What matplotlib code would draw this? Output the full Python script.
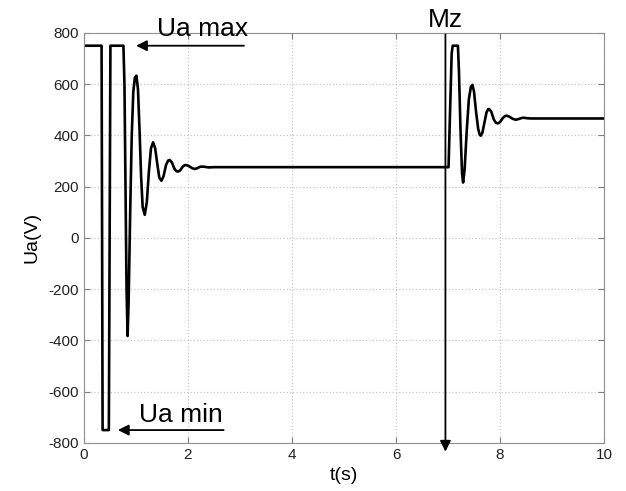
import numpy as np
import matplotlib.pyplot as plt

plt.rcParams['font.family'] = ['Liberation Sans', 'DejaVu Sans']
plt.rcParams['axes.unicode_minus'] = False

# start-up transient (time in s, voltage in V)
t_start = [0.00, 0.34, 0.36, 0.48, 0.51, 0.76, 0.78, 0.80, 0.82, 0.84,
           0.86, 0.89, 0.92, 0.95, 0.98, 1.01, 1.04, 1.07, 1.10, 1.13,
           1.17, 1.21, 1.25, 1.29, 1.33, 1.37, 1.41, 1.45, 1.49, 1.53,
           1.58, 1.62, 1.65, 1.69, 1.74, 1.78, 1.81, 1.85, 1.90, 1.94,
           1.97, 2.02, 2.08, 2.13, 2.18, 2.24, 2.30, 2.40, 2.50]
ua_start = [750, 750, -750, -750, 750, 750, 600, 200, -200, -383,
            -250, 100, 400, 570, 625, 633, 580, 420, 240, 120,
            90, 140, 260, 350, 373, 350, 290, 235, 223, 240,
            285, 302, 304, 295, 270, 260, 259, 263, 278, 284,
            284, 280, 272, 269, 272, 278, 278, 275, 276]

# load torque step Mz at t = 7 s
t_load = [7.01, 7.04, 7.07, 7.09, 7.19, 7.21, 7.24, 7.27, 7.29, 7.32,
          7.36, 7.40, 7.44, 7.47, 7.50, 7.54, 7.58, 7.61, 7.63, 7.66,
          7.70, 7.74, 7.77, 7.79, 7.83, 7.88, 7.92, 7.96, 8.00, 8.05,
          8.10, 8.13, 8.18, 8.24, 8.30, 8.36, 8.42, 8.45, 8.52, 8.60,
          10.0]
ua_load = [276, 500, 720, 750, 750, 650, 420, 250, 216, 270,
           420, 540, 590, 597, 570, 490, 425, 402, 399, 410,
           450, 490, 502, 503, 493, 462, 449, 447, 452, 467,
           476, 477, 473, 465, 461, 464, 468, 469, 467, 466,
           466]

t = t_start + t_load
ua = ua_start + ua_load

fig = plt.figure(figsize=(6.26, 4.91), dpi=100)
ax = fig.add_axes([0.134, 0.098, 0.831, 0.835])
ax.plot(t, ua, color='black', lw=1.9, solid_joinstyle='round')

ax.set_xlim(0, 10)
ax.set_ylim(-800, 800)
ax.set_xticks(range(0, 11, 2))
ax.set_yticks(range(-800, 801, 200))
ax.tick_params(direction='in', top=True, right=True, labelsize=11,
               color='#808080', length=4, labelcolor='#222222')
ax.grid(True, color='#c8c8c8', linestyle=':', lw=0.9)
for s in ax.spines.values():
    s.set_color('#909090')

ax.set_xlabel('t(s)', fontsize=14, labelpad=4)
ax.set_ylabel('Ua(V)', fontsize=14, labelpad=6)

arrow = dict(arrowstyle='-|>', color='black', lw=1.3, mutation_scale=16)
ax.annotate('', xy=(0.95, 750), xytext=(3.13, 750), arrowprops=arrow,
            annotation_clip=False)
ax.text(1.40, 815, 'Ua max', fontsize=19, ha='left', va='center')
ax.annotate('', xy=(0.60, -750), xytext=(2.74, -750), arrowprops=arrow,
            annotation_clip=False)
ax.text(1.06, -690, 'Ua min', fontsize=19, ha='left', va='center')
ax.annotate('', xy=(6.95, -845), xytext=(6.95, 805), arrowprops=arrow,
            annotation_clip=False)
ax.text(6.95, 850, 'Mz', fontsize=19, ha='center', va='center')

fig.savefig('out.png', dpi=100)
